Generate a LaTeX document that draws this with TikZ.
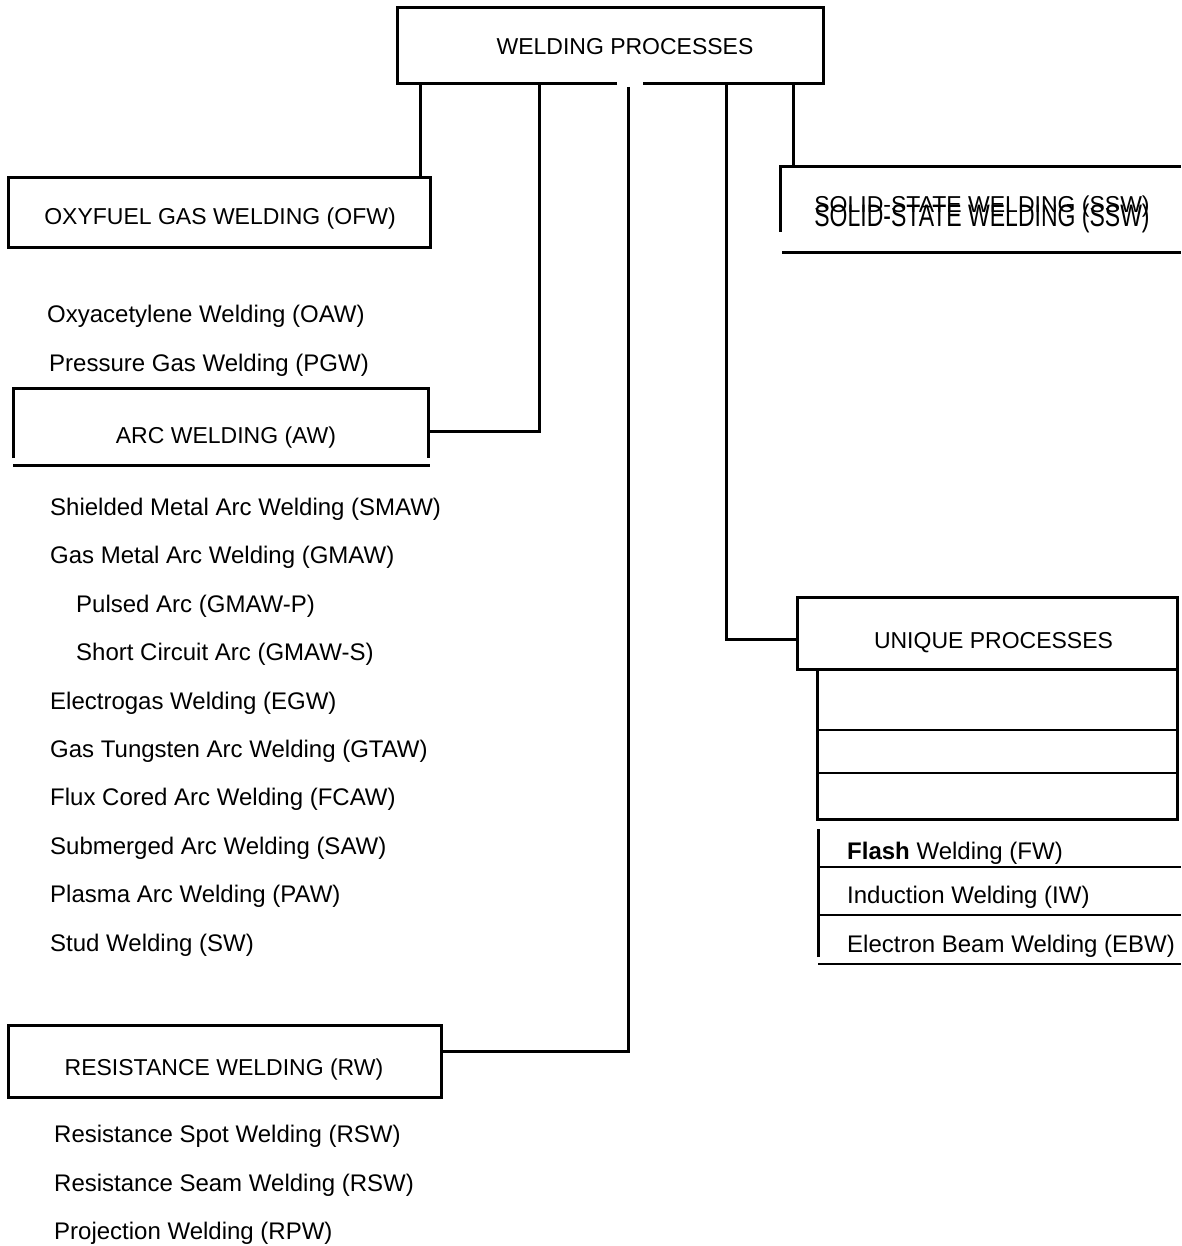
\documentclass[tikz,border=0pt]{standalone}
\usepackage{fontspec}
\setmainfont{Liberation Sans}
\begin{document}
\begin{tikzpicture}[x=1pt,y=-1pt,
  ln/.style={line width=3pt},
  thinln/.style={line width=2.5pt},
  frame/.style={inner sep=0pt, outer sep=0pt},
  head/.style={font=\fontsize{23}{27}\selectfont, inner sep=0pt, anchor=base},
  item/.style={font=\fontsize{24}{28}\selectfont, inner sep=0pt, anchor=base west}]
\useasboundingbox (0,0) rectangle (1181,1246);

% top box
\node[frame, minimum width=426, minimum height=76] (wpb) at (610,46) {};
\node[head] (wp) at (625,55) {WELDING PROCESSES};
\coordinate (gL) at (617,0);
\coordinate (gR) at (643,0);
\draw[ln] (wpb.south -| gL) -- (wpb.south west) -- (wpb.north west) -- (wpb.north east) -- (wpb.south east) -- (wpb.south -| gR);

% oxyfuel
\node[frame, draw, ln, minimum width=422, minimum height=70] (ofwb) at (219,213) {};
\node[head] (ofw) at (220,225) {OXYFUEL GAS WELDING (OFW)};
\node[item] (oaw) at (47,322) {Oxyacetylene Welding (OAW)};
\node[item] (pgw) at (49,371) {Pressure Gas Welding (PGW)};

% arc welding
\node[frame, minimum width=415, minimum height=77] (awb) at (220.5,426.5) {};
\draw[ln] ([yshift=-70pt]awb.north west) -- (awb.north west) -- (awb.north east) -- ([yshift=-70pt]awb.north east);
\draw[ln] (awb.south west) -- ([xshift=2pt]awb.south east);
\node[head] (aw) at (226,443) {ARC WELDING (AW)};
\node[item] (smaw) at (50,515.5) {Shielded Metal Arc Welding (SMAW)};
\node[item] (gmaw) at (50,563.9) {Gas Metal Arc Welding (GMAW)};
\node[item] (gmawp) at (76,612.3) {Pulsed Arc (GMAW-P)};
\node[item] (gmaws) at (76,660.7) {Short Circuit Arc (GMAW-S)};
\node[item] (egw) at (50,709.1) {Electrogas Welding (EGW)};
\node[item] (gtaw) at (50,757.5) {Gas Tungsten Arc Welding (GTAW)};
\node[item] (fcaw) at (50,805.9) {Flux Cored Arc Welding (FCAW)};
\node[item] (saw) at (50,854.3) {Submerged Arc Welding (SAW)};
\node[item] (paw) at (50,902.7) {Plasma Arc Welding (PAW)};
\node[item] (sw) at (50,951.1) {Stud Welding (SW)};

% resistance welding
\node[frame, draw, ln, minimum width=433, minimum height=72] (rwb) at (224.5,1061) {};
\node[head] (rw) at (224,1075) {RESISTANCE WELDING (RW)};
\node[item] (rsw1) at (54,1142) {Resistance Spot Welding (RSW)};
\node[item] (rsw2) at (54,1191) {Resistance Seam Welding (RSW)};
\node[item] (rpw) at (54,1239) {Projection Welding (RPW)};

% solid state
\node[frame, minimum width=401, minimum height=86] (sswb) at (980.5,210) {};
\draw[ln] ([yshift=-65pt]sswb.north west) -- (sswb.north west) -- (sswb.north east);
\draw[ln] ([xshift=2pt]sswb.south west) -- (sswb.south east);
\node[head] (ssw1) at (982,213) {SOLID-STATE WELDING (SSW)};
\node[head] (ssw2) at (982,227) {\scalebox{1}[1.35]{SOLID-STATE WELDING (SSW)}};

% unique processes
\node[frame, draw, ln, minimum width=380, minimum height=72] (unb) at (987,633) {};
\node[head] (un) at (993.5,648) {UNIQUE PROCESSES};
\node[frame, minimum width=360, minimum height=150] (tab) at (997,744) {};
\draw[ln] (tab.north west) -- (tab.south west) -- (tab.south east) -- (tab.north east);
\draw[thinln] ([yshift=-61pt]tab.north west) -- ([yshift=-61pt]tab.north east);
\draw[thinln] ([yshift=-104pt]tab.north west) -- ([yshift=-104pt]tab.north east);

\node[frame, minimum width=363, minimum height=135] (low) at (999.5,896.5) {};
\draw[ln] ([yshift=-128pt]low.north west) -- (low.north west);
\draw[thinln] ([yshift=-38pt]low.north west) -- ([yshift=-38pt]low.north east);
\draw[thinln] ([yshift=-86pt]low.north west) -- ([yshift=-86pt]low.north east);
\draw[thinln] (low.south west) -- (low.south east);
\node[item] (fw) at (847,859) {\textbf{Flash} Welding (FW)};
\node[item] (iw) at (847,903) {Induction Welding (IW)};
\node[item] (ebw) at (847,952) {Electron Beam Welding (EBW)};

% connectors
\coordinate (xO) at (420,0);
\coordinate (xA) at (539,0);
\coordinate (rtop) at (628,87);
\coordinate (xU) at (726,0);
\coordinate (xS) at (793,0);
\draw[ln] (wpb.south -| xO) -- (ofwb.north -| xO);
\draw[ln] (wpb.south -| xA) |- ([yshift=-4.5pt]awb.east);
\draw[ln] (rtop) |- ([yshift=10pt]rwb.east);
\draw[ln] (wpb.south -| xU) |- ([yshift=-6pt]unb.west);
\draw[ln] (wpb.south -| xS) -- (sswb.north -| xS);
\end{tikzpicture}
\end{document}
